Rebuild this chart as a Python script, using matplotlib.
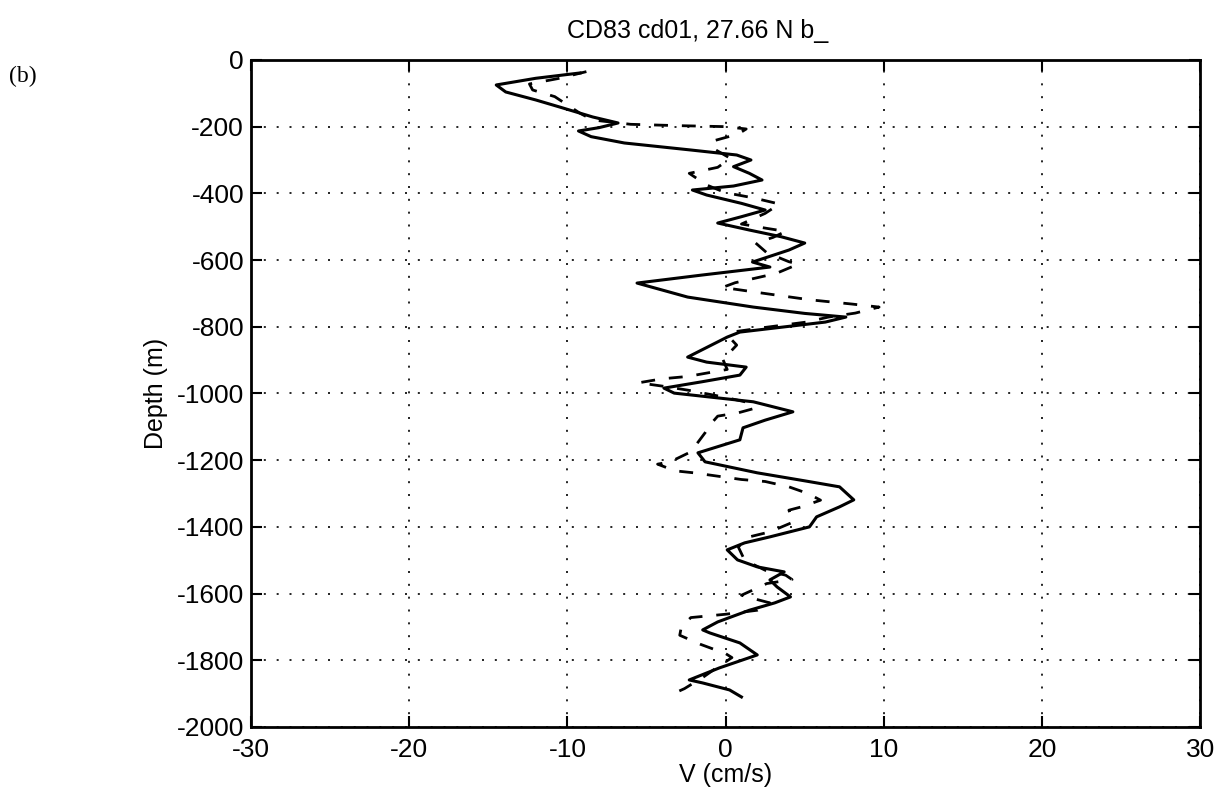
import numpy as np
import matplotlib.pyplot as plt

# solid profile (V in cm/s, depth in m)
v_solid = [-9.2, -12.0, -14.5, -13.9, -12.0, -10.5, -8.4, -6.8, -8.0, -9.3, -8.5, -6.4,
           -2.2, 0.7, 1.6, 0.5, 1.5, 2.3, 0.5, -2.1, -1.2, 1.0, 2.5, 1.0, -0.5, 1.5,
           3.5, 5.0, 4.0, 1.7, 2.8, -1.5, -5.6, -2.4, 1.75, 5.0, 7.6, 6.3, 0.9, 0.1,
           -0.9, -2.4, -1.2, 1.3, 0.9, -1.5, -3.9, -3.25, 1.75, 4.25, 2.5, 1.1, 0.9,
           -1.75, -1.3, 2.0, 5.0, 7.2, 8.1, 7.2, 5.75, 5.3, 2.8, 1.2, 0.1, 0.75, 2.0,
           3.7, 2.8, 3.25, 4.1, 3.1, 1.5, -0.5, -1.45, -1.0, 0.9, 2.0, -0.4, -2.3,
           -1.45, 0.25, 1.0]
z_solid = [-39, -55, -75, -96, -120, -141, -171, -189, -203, -213, -230, -249,
           -270, -285, -300, -320, -340, -360, -378, -390, -405, -430, -450, -470, -489, -510,
           -530, -549, -570, -606, -621, -645, -669, -711, -741, -760, -771, -786, -816, -831,
           -855, -891, -906, -921, -945, -965, -984, -999, -1025, -1055, -1080, -1103, -1139,
           -1178, -1205, -1238, -1262, -1280, -1319, -1340, -1370, -1400, -1430, -1448, -1469, -1499, -1520,
           -1535, -1559, -1580, -1610, -1628, -1650, -1685, -1709, -1718, -1748, -1784, -1823, -1859,
           -1868, -1889, -1910]

# dashed profile
v_dash = [-8.8, -10.5, -12.4, -12.2, -10.8, -10.0, -9.2, -8.4, -6.0, -3.0, 0.0, 1.3,
          0.8, -0.8, -0.8, 0.3, -0.5, -2.3, -1.2, 0.0, 1.8, 3.4, 2.5, 1.0, 2.6, 3.8,
          3.0, 1.9, 2.6, 4.0, 4.6, 3.2, 0.6, -0.2, 2.3, 5.3, 8.0, 9.7, 8.2, 6.5, 5.1,
          2.5, 0.4, 0.3, 0.7, 0.3, -0.2, 0.1, -2.4, -4.0, -5.5, -4.0, -2.4, -0.2, 1.6,
          1.8, 0.8, -0.5, -1.0, -1.3, -2.2, -3.5, -4.3, -3.2, -2.0, -0.5, 1.0, 2.5, 4.0,
          5.2, 6.0, 4.8, 4.0, 4.3, 2.8, 1.5, 0.8, 1.2, 2.5, 3.8, 4.2, 2.6, 1.6, 1.0, 2.0,
          2.8, 2.0, 0.0, -2.2, -2.8, -2.9, -1.6, 0.0, 0.4, -0.5, -1.4, -2.6, -3.3]
z_dash = [-35, -55, -72, -90, -110, -135, -160, -180, -193, -197, -200, -207,
          -222, -243, -265, -295, -322, -340, -375, -398, -414, -432, -460, -492, -505, -514,
          -532, -549, -578, -605, -612, -640, -668, -682, -699, -719, -732, -741, -759, -771, -786,
          -802, -816, -835, -855, -875, -895, -928, -949, -956, -968, -978, -990, -1010, -1029,
          -1045, -1058, -1068, -1095, -1118, -1175, -1205, -1212, -1232, -1238, -1248, -1258, -1264, -1280,
          -1300, -1320, -1340, -1350, -1385, -1415, -1430, -1460, -1500, -1530, -1545, -1558, -1570, -1592, -1605, -1618,
          -1628, -1650, -1662, -1672, -1700, -1725, -1752, -1780, -1792, -1820, -1850, -1885, -1900]

x_ticks = [-30, -20, -10, 0, 10, 20, 30]
y_ticks = list(range(-2000, 1, 200))

plt.rcParams['font.family'] = ['Liberation Sans', 'DejaVu Sans']
plt.rcParams['axes.unicode_minus'] = False

fig = plt.figure(figsize=(12.28, 8.09), dpi=100)
ax = fig.add_axes([0.2044, 0.1014, 0.773, 0.8245])

ax.plot(v_solid, z_solid, color='black', lw=2.2, solid_joinstyle='round')
ax.plot(v_dash, z_dash, color='black', lw=2.0, linestyle=(0, (5, 5)))

ax.set_xlim(-30, 30)
ax.set_ylim(-2000, 0)
ax.set_xticks(x_ticks)
ax.set_yticks(y_ticks)
ax.grid(True, color='black', linestyle=(0, (1.2, 6.5)), linewidth=1.2)
ax.tick_params(direction='in', length=8, width=1.5, top=True, right=True,
               labelsize=19, pad=5)
ax.tick_params(axis='x', pad=8)
for sp in ax.spines.values():
    sp.set_linewidth(2)

ax.set_xlabel('V (cm/s)', fontsize=18, labelpad=1)
ax.set_ylabel('Depth (m)', fontsize=18, labelpad=6)
ax.set_title('CD83 cd01, 27.66 N b_', fontsize=18, x=0.47, pad=16)
fig.text(0.007, 0.906, '(b)', fontsize=17, family=['Liberation Serif'], va='center')

fig.savefig('out.png', dpi=100)
